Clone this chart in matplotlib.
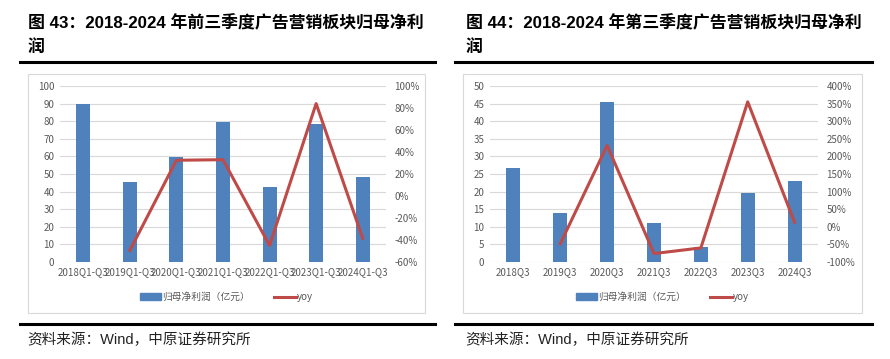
import matplotlib.pyplot as plt
import numpy as np
from matplotlib.patches import Rectangle
from matplotlib.lines import Line2D
from matplotlib.ticker import FuncFormatter

plt.rcParams["font.family"] = ["Noto Sans CJK SC", "DejaVu Sans"]
HEAD = ["Liberation Sans", "Noto Sans CJK SC"]

# left panel: first three quarters
cats_l = ["2018Q1-Q3", "2019Q1-Q3", "2020Q1-Q3", "2021Q1-Q3", "2022Q1-Q3", "2023Q1-Q3", "2024Q1-Q3"]
profit_l = [90.0, 45.5, 59.5, 79.5, 42.5, 78.5, 48.5]
yoy_l = [np.nan, -49.5, 32.5, 33.0, -45.0, 84.0, -38.5]

# right panel: third quarter
cats_r = ["2018Q3", "2019Q3", "2020Q3", "2021Q3", "2022Q3", "2023Q3", "2024Q3"]
profit_r = [26.7, 13.8, 45.5, 11.2, 4.3, 19.7, 22.9]
yoy_r = [np.nan, -48.0, 231.0, -76.0, -60.0, 355.0, 13.0]

titles = ["图 43：2018-2024 年前三季度广告营销板块归母净利", "图 44：2018-2024 年第三季度广告营销板块归母净利"]
source = "资料来源：Wind，中原证券研究所"

BAR = "#4f81bd"
LINE = "#be4b48"
GRID = "#d9d9d9"
TXT = "#595959"

W, H = 890, 359
fig = plt.figure(figsize=(W / 100, H / 100), dpi=100)


def fx(px):
    return px / W


def fy(py):
    return 1 - py / H


def panel(x0, cats, profit, yoy, ylim, yticks, y2lim, y2ticks, title, box, plot, rule):
    # title, rules and chart box
    fig.text(fx(x0), fy(23), title, fontsize=12.2, fontweight="bold", va="center", ha="left", family=HEAD)
    fig.text(fx(x0), fy(47), "润", fontsize=12.2, fontweight="bold", va="center", ha="left", family=HEAD)
    fig.add_artist(Line2D([fx(rule[0]), fx(rule[1])], [fy(62), fy(62)], color="black", lw=2.2))
    fig.add_artist(Line2D([fx(rule[0]), fx(rule[1])], [fy(324), fy(324)], color="black", lw=2.2))
    fig.text(fx(x0 - 1), fy(340), source, fontsize=10.5, va="center", ha="left", color="#222222", family=HEAD)
    fig.add_artist(Rectangle((fx(box[0]), fy(box[3])), fx(box[2] - box[0]), (box[3] - box[1]) / H,
                             fill=False, edgecolor=GRID, lw=0.8))

    ax = fig.add_axes([fx(plot[0]), fy(plot[3]), fx(plot[2] - plot[0]), (plot[3] - plot[1]) / H])
    x = np.arange(len(cats))
    ax.bar(x, profit, width=0.3, color=BAR, zorder=2)
    ax.set_xlim(-0.5, len(cats) - 0.5)
    ax.set_ylim(*ylim)
    ax.set_yticks(yticks)
    ax.grid(axis="y", color=GRID, lw=0.8, zorder=0)
    ax.set_axisbelow(True)
    ax.set_xticks(x)
    ax.set_xticklabels(cats)
    ax.tick_params(length=0, labelsize=7, colors=TXT, pad=4)
    for s in ax.spines.values():
        s.set_visible(False)

    ax2 = ax.twinx()
    ax2.plot(x, yoy, color=LINE, lw=2.2, zorder=3)
    ax2.set_ylim(*y2lim)
    ax2.set_yticks(y2ticks)
    ax2.yaxis.set_major_formatter(FuncFormatter(lambda v, _: f"{v:.0f}%"))
    ax2.tick_params(length=0, labelsize=7, colors=TXT, pad=6)
    for s in ax2.spines.values():
        s.set_visible(False)

    handles = [Rectangle((0, 0), 1, 1, color=BAR), Line2D([], [], color=LINE, lw=2.2)]
    fig.legend(handles, ["归母净利润（亿元）", "yoy"], loc="center",
               bbox_to_anchor=(fx((box[0] + box[2]) / 2), fy(297)), ncol=2, frameon=False,
               fontsize=7, labelcolor=TXT, handlelength=2.2, handleheight=0.6,
               columnspacing=2.5, handletextpad=0.1)


panel(28, cats_l, profit_l, yoy_l, (0, 100), np.arange(0, 101, 10), (-60, 100), np.arange(-60, 101, 20),
      titles[0], (28, 74, 425, 313), (60, 86, 386, 262), (20, 435))
panel(466, cats_r, profit_r, yoy_r, (0, 50), np.arange(0, 51, 5), (-100, 400), np.arange(-100, 401, 50),
      titles[1], (463, 74, 862, 313), (490, 86, 818, 262), (455, 872))

fig.savefig("out.png", dpi=100, facecolor="white")
